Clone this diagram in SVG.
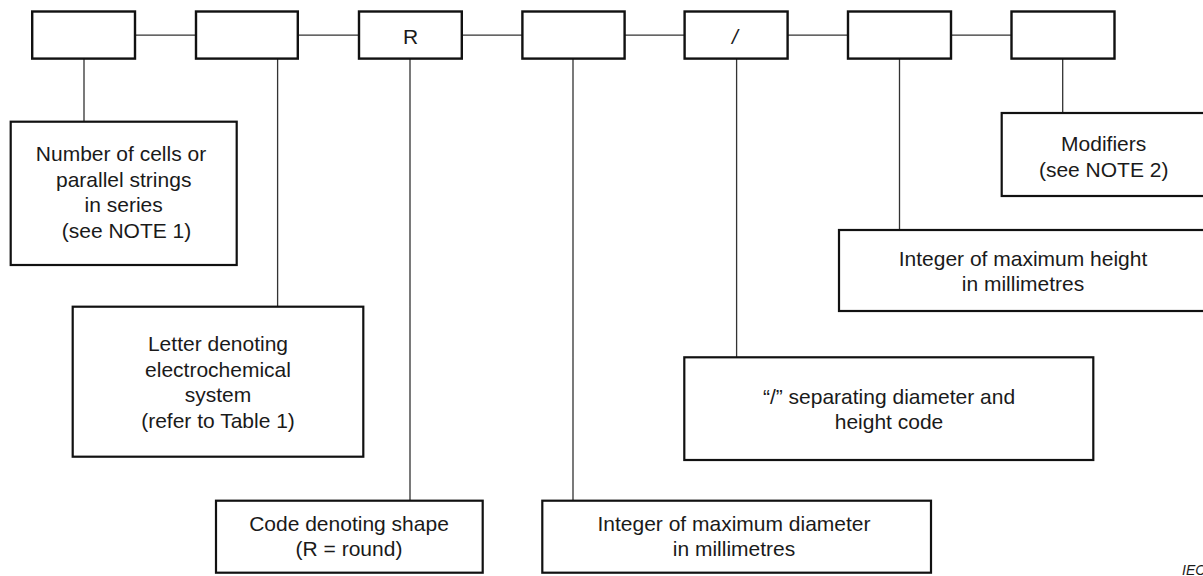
<svg xmlns="http://www.w3.org/2000/svg" width="1203" height="576" viewBox="0 0 1203 576">
<style>
.top{fill:#fff;stroke:#111;stroke-width:2.4}
.box{fill:#fff;stroke:#111;stroke-width:2.2}
.con{stroke:#333;stroke-width:1.3;fill:none}
text{font-family:"Liberation Sans",Arial,sans-serif;font-size:21px;fill:#1a1a1a;text-anchor:middle}
.it{font-style:italic}
</style>
<rect width="1203" height="576" fill="#fff"/>
<g id="connectors">
<path class="con" d="M135 35.2H196M298 35.2H359M462 35.2H522M625 35.2H685M788 35.2H848M951 35.2H1011"/>
<path class="con" d="M84 58.6V121.7M277.6 58.6V306.7M410 58.6V500.7M573 58.6V500.7M736.6 58.6V357.3M899.5 58.6V230M1062.7 58.6V113"/>
</g>
<g id="c1"><rect class="top" x="32.2" y="11.5" width="102.8" height="47.1"/></g>
<g id="c2"><rect class="top" x="196" y="11.5" width="101.8" height="47.1"/></g>
<g id="c3"><rect class="top" x="359" y="11.5" width="102.8" height="47.1"/><text x="410.5" y="43.5" font-size="22">R</text></g>
<g id="c4"><rect class="top" x="522.4" y="11.5" width="102.2" height="47.1"/></g>
<g id="c5"><rect class="top" x="684.6" y="11.5" width="103" height="47.1"/><text class="it" x="735" y="43.5">/</text></g>
<g id="c6"><rect class="top" x="848" y="11.5" width="103" height="47.1"/></g>
<g id="c7"><rect class="top" x="1011.5" y="11.5" width="103" height="47.1"/></g>
<g id="n1"><rect class="box" x="10.7" y="121.7" width="226" height="143.3"/>
<text x="121" y="160.5">Number of cells or</text>
<text x="123.7" y="186.5">parallel strings</text>
<text x="123.7" y="212">in series</text>
<text x="126.5" y="237.5">(see NOTE 1)</text></g>
<g id="n2"><rect class="box" x="72.7" y="306.7" width="290.6" height="150"/>
<text x="218" y="350.5">Letter denoting</text>
<text x="218" y="376.5">electrochemical</text>
<text x="218" y="402">system</text>
<text x="218" y="428">(refer to Table 1)</text></g>
<g id="n3"><rect class="box" x="216" y="500.7" width="266.7" height="72"/>
<text x="349" y="530.5">Code denoting shape</text>
<text x="349" y="555.5">(R = round)</text></g>
<g id="n4"><rect class="box" x="542.3" y="500.7" width="388.7" height="72"/>
<text x="734" y="530.5">Integer of maximum diameter</text>
<text x="734" y="555.5">in millimetres</text></g>
<g id="n5"><rect class="box" x="684.3" y="357.3" width="409" height="102.7"/>
<text x="889" y="404">“/” separating diameter and</text>
<text x="889" y="429">height code</text></g>
<g id="n6"><rect class="box" x="839" y="230" width="370" height="81"/>
<text x="1023" y="266">Integer of maximum height</text>
<text x="1023" y="291">in millimetres</text></g>
<g id="n7"><rect class="box" x="1001.7" y="113" width="210" height="83"/>
<text x="1103.7" y="150.5">Modifiers</text>
<text x="1103.7" y="176.5">(see NOTE 2)</text></g>
<text class="it" x="1182" y="575" style="text-anchor:start;font-size:14px">IEC</text>
</svg>
